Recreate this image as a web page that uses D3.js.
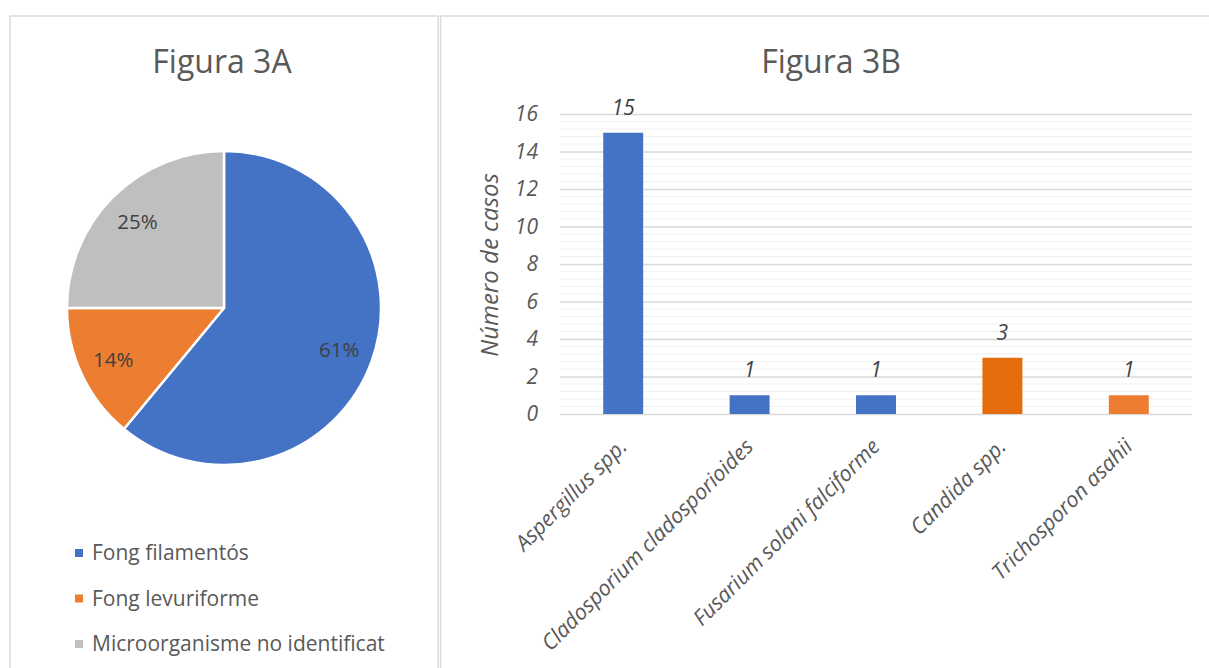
<!DOCTYPE html>
<html>
<head>
<meta charset="utf-8">
<script src="https://cdn.jsdelivr.net/npm/d3@7"></script>
<style>
  html, body { margin: 0; padding: 0; background: #ffffff; }
  svg { display: block; font-family: "Open Sans", "Noto Sans", sans-serif; }
</style>
</head>
<body>
<svg id="chart" width="1209" height="668"></svg>
<script>
// Figure 3A: share of isolates by organism type
const pieCategories = ["Fong filamentós", "Fong levuriforme", "Microorganisme no identificat"];
const pieValues = [61, 14, 25];
const pieColors = ["#4472C4", "#ED7D31", "#BFBFBF"];

// Figure 3B: number of cases by species
const barCategories = ["Aspergillus spp.", "Cladosporium cladosporioides", "Fusarium solani falciforme", "Candida spp.", "Trichosporon asahii"];
const barValues = [15, 1, 1, 3, 1];
const barColors = ["#4472C4", "#4472C4", "#4472C4", "#E46C0A", "#ED7D31"];
const yTickValues = [0, 2, 4, 6, 8, 10, 12, 14, 16];

const FONT = '"Open Sans", "Noto Sans", sans-serif';
const svg = d3.select("#chart");

// Panel frames
svg.append("rect").attr("x", 10).attr("y", 16).attr("width", 428).attr("height", 700)
  .attr("fill", "none").attr("stroke", "#d9d9d9").attr("stroke-width", 1.4);
svg.append("rect").attr("x", 440.5).attr("y", 16).attr("width", 800).attr("height", 700)
  .attr("fill", "none").attr("stroke", "#d9d9d9").attr("stroke-width", 1.4);

// ---------- Pie ----------
const pieG = svg.append("g").attr("transform", "translate(224,308)");
const radius = 157;
const pie = d3.pie().sort(null).value(d => d)(pieValues);
const arc = d3.arc().innerRadius(0).outerRadius(radius);
const labelArc = d3.arc().innerRadius(radius * 0.78).outerRadius(radius * 0.78);

pieG.selectAll("path.slice").data(pie).join("path")
  .attr("class", "slice")
  .attr("d", arc)
  .attr("fill", (d, i) => pieColors[i])
  .attr("stroke", "#ffffff")
  .attr("stroke-width", 2.5)
  .attr("stroke-linejoin", "round");

pieG.selectAll("text.plabel").data(pie).join("text")
  .attr("class", "plabel")
  .attr("transform", d => `translate(${labelArc.centroid(d)})`)
  .attr("text-anchor", "middle")
  .attr("dy", "0.35em")
  .attr("font-size", 20.5)
  .attr("fill", "#404040")
  .text(d => d.data + "%");

svg.append("text")
  .attr("x", 222).attr("y", 73)
  .attr("text-anchor", "middle")
  .attr("font-size", 32)
  .attr("fill", "#595959")
  .text("Figura 3A");

// Legend
const legend = svg.append("g");
pieCategories.forEach((c, i) => {
  const y = 553 + i * 45.5;
  legend.append("rect").attr("x", 75).attr("y", y - 4).attr("width", 8).attr("height", 8)
    .attr("fill", pieColors[i]);
  legend.append("text").attr("x", 92).attr("y", y).attr("dy", "0.35em")
    .attr("font-size", 21).attr("fill", "#595959").text(c);
});

// ---------- Bar chart ----------
const plot = { left: 560, right: 1192, top: 114, bottom: 414 };
const x = d3.scaleBand().domain(barCategories).range([plot.left, plot.right]).padding(0);
const y = d3.scaleLinear().domain([0, 16]).range([plot.bottom, plot.top]);
const barW = x.bandwidth() * 0.316;

// Minor gridlines
const minorTicks = d3.range(0, 16.001, 0.4).filter(v => Math.abs(v / 2 - Math.round(v / 2)) > 1e-6);
svg.append("g").selectAll("line").data(minorTicks).join("line")
  .attr("x1", plot.left).attr("x2", plot.right)
  .attr("y1", d => y(d)).attr("y2", d => y(d))
  .attr("stroke", "#f0f0f0").attr("stroke-width", 1);

// Major gridlines + y labels via axis
const yAxis = d3.axisLeft(y).tickValues(yTickValues).tickSize(-(plot.right - plot.left)).tickPadding(22);
const yg = svg.append("g").attr("transform", `translate(${plot.left},0)`).call(yAxis);
yg.select(".domain").remove();
yg.selectAll(".tick line").attr("stroke", "#d9d9d9").attr("stroke-width", 1.4);
yg.selectAll(".tick text")
  .attr("font-size", 21).attr("font-style", "italic").attr("fill", "#595959")
  .attr("font-family", FONT);

// Bars
svg.append("g").selectAll("rect").data(barValues).join("rect")
  .attr("x", (d, i) => x(barCategories[i]) + x.bandwidth() / 2 - barW / 2)
  .attr("y", d => y(d))
  .attr("width", barW)
  .attr("height", d => y(0) - y(d))
  .attr("fill", (d, i) => barColors[i]);

// Value labels
svg.append("g").selectAll("text").data(barValues).join("text")
  .attr("x", (d, i) => x(barCategories[i]) + x.bandwidth() / 2)
  .attr("y", d => y(d) - 18)
  .attr("text-anchor", "middle")
  .attr("font-size", 21).attr("font-style", "italic").attr("fill", "#404040")
  .text(d => d);

// Category labels, rotated
svg.append("g").selectAll("text").data(barCategories).join("text")
  .attr("transform", d => `translate(${x(d) + x.bandwidth() / 2 + 5},${plot.bottom + 34}) rotate(-45)`)
  .attr("text-anchor", "end")
  .attr("font-size", 21.5).attr("font-style", "italic").attr("fill", "#595959")
  .text(d => d);

// Y axis title
svg.append("text")
  .attr("transform", `translate(498,265) rotate(-90)`)
  .attr("text-anchor", "middle")
  .attr("font-size", 24).attr("font-style", "italic").attr("fill", "#595959")
  .text("Número de casos");

svg.append("text")
  .attr("x", 831).attr("y", 73)
  .attr("text-anchor", "middle")
  .attr("font-size", 32)
  .attr("fill", "#595959")
  .text("Figura 3B");
</script>
</body>
</html>
